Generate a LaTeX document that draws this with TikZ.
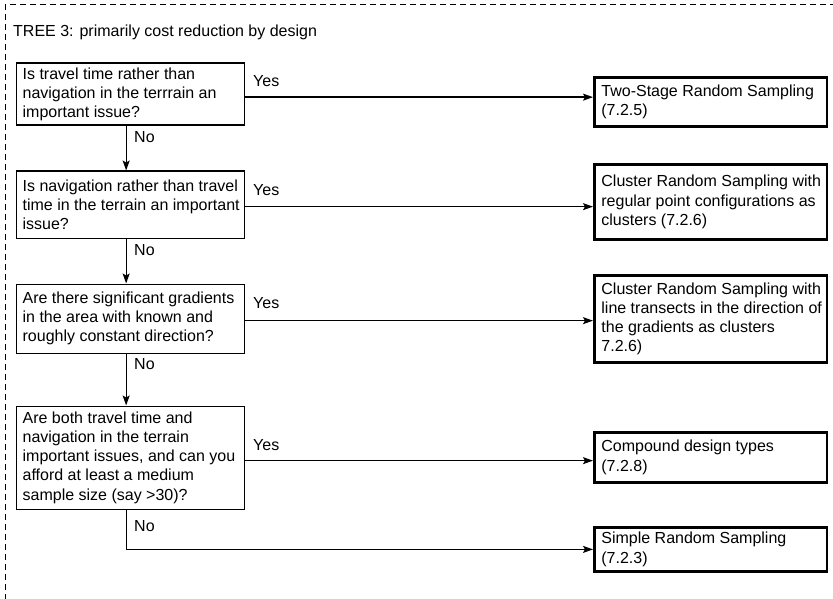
\documentclass[tikz,border=0pt]{standalone}
\usepackage{fontspec}
\setmainfont{Liberation Sans}
\usetikzlibrary{arrows.meta}

\newcommand{\scale}{1}

\begin{document}
\begin{tikzpicture}[x = \scale pt, y = -\scale pt,
  font = \fontsize{16}{19.2}\selectfont,
  question/.style = {draw, line width = 1.3pt, anchor = north west, text width = 228pt, align = left, inner xsep = 0pt, inner ysep = 0pt,
    execute at begin node = {\leftskip = 6.5pt\spaceskip = 0pt\xspaceskip = 0pt\hyphenpenalty = 10000}},
  design/.style = {draw, line width = 2.8pt, anchor = north west, text width = 232.5pt, align = left, inner xsep = 0pt, inner ysep = 0pt,
    execute at begin node = {\leftskip = 7pt\spaceskip = 0pt\xspaceskip = 0pt\hyphenpenalty = 10000}},
  arr/.style = {line width = 1.3pt, -{Stealth[length = 10pt, width = 7pt, inset = 2pt]}},
  lbl/.style = {anchor = base west, inner sep = 0pt}]

\useasboundingbox (0,0) rectangle (833,599);
\draw [line width = 1pt, dash pattern = on 6pt off 4pt] (5,640) -- (5,5) -- (860,5);

\node [lbl] (title) at (13,37) {TREE 3: primarily cost reduction by design};

\node [question, minimum height = 62pt] (q1) at (15.5,62.5) {Is travel time rather than\\navigation in the terrrain an\\important issue?};
\node [question, minimum height = 67pt] (q2) at (15.5,170.5) {Is navigation rather than travel\\time in the terrain an important\\issue?};
\node [question, minimum height = 69pt] (q3) at (15.5,283.5) {Are there significant gradients\\in the area with known and\\roughly constant direction?};
\node [question, minimum height = 103pt] (q4) at (15.5,405.5) {Are both travel time and\\navigation in the terrain\\important issues, and can you\\afford at least a medium\\sample size (say >30)?};

\node [design, minimum height = 49pt] (r1) at (593,76) {Two-Stage Random Sampling\\(7.2.5)};
\node [design, minimum height = 75pt] (r2) at (593,163) {Cluster Random Sampling with\\regular point configurations as\\clusters (7.2.6)};
\node [design, minimum height = 87pt] (r3) at (593,274) {Cluster Random Sampling with\\line transects in the direction of\\the gradients as clusters\\7.2.6)};
\node [design, minimum height = 50pt] (r4) at (593,431) {Compound design types\\(7.2.8)};
\node [design, minimum height = 44pt] (r5) at (593,526) {Simple Random Sampling\\(7.2.3)};

\coordinate (y1) at ([yshift = -3pt]q1.east);
\coordinate (y2) at ([yshift = -2pt]q2.east);
\coordinate (y3) at ([yshift = -2pt]q3.east);
\coordinate (y4) at ([yshift = -3pt]q4.east);

\draw [arr] (y1) -- (y1 -| r1.west);
\draw [arr] (y2) -- (y2 -| r2.west);
\draw [arr] (y3) -- (y3 -| r3.west);
\draw [arr] (y4) -- (y4 -| r4.west);

\draw [arr] ([xshift = -4pt]q1.south) -- ([xshift = -4pt]q2.north);
\draw [arr] ([xshift = -4pt]q2.south) -- ([xshift = -4pt]q3.north);
\draw [arr] ([xshift = -4pt]q3.south) -- ([xshift = -4pt]q4.north);
\draw [arr] ([xshift = -4pt]q4.south) |- (r5.west);

\node [lbl] (yes1) at (253,87) {Yes};
\node [lbl] (yes2) at (253,195) {Yes};
\node [lbl] (yes3) at (253,308) {Yes};
\node [lbl] (yes4) at (253,450) {Yes};

\node [lbl] (no1) at (134,143) {No};
\node [lbl] (no2) at (134,255) {No};
\node [lbl] (no3) at (134,369) {No};
\node [lbl] (no4) at (134,531) {No};
\end{tikzpicture}
\end{document}
